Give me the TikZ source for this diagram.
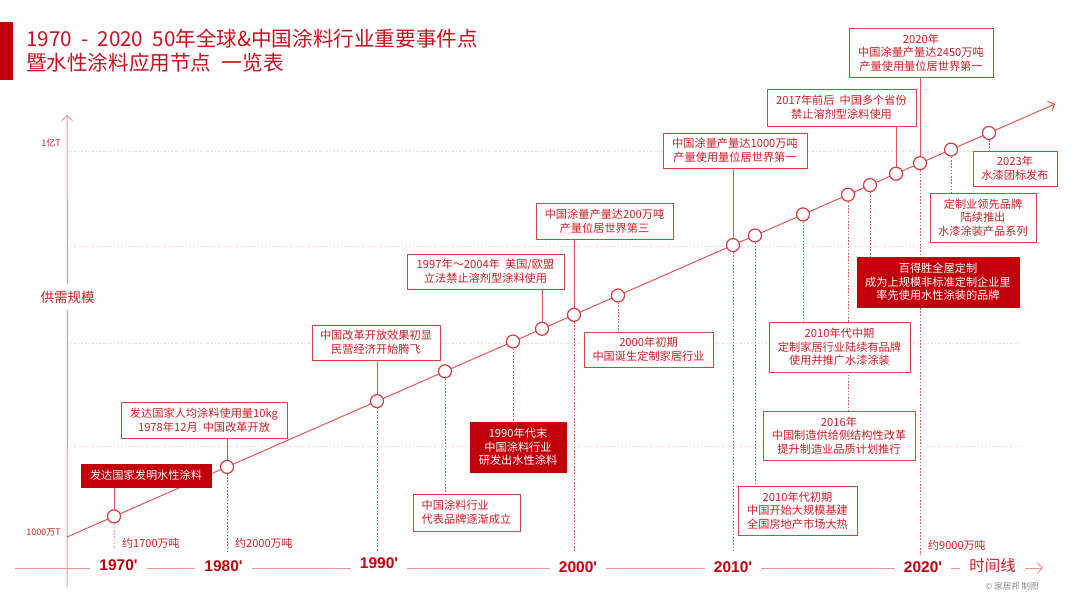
\documentclass[tikz,border=0pt]{standalone}
\usepackage{fontspec}
\setmainfont{Noto Sans CJK SC}
\newfontfamily\yrfont{Liberation Sans}
\usetikzlibrary{arrows.meta}
\pgfdeclarelayer{bg}
\pgfsetlayers{bg,main}
\definecolor{tred}{RGB}{200,16,30}
\definecolor{fred}{RGB}{194,0,12}
\definecolor{bred}{RGB}{216,66,68}
\definecolor{txtred}{RGB}{206,30,38}
\definecolor{lred}{RGB}{226,86,86}
\definecolor{gridc}{RGB}{247,212,212}
\definecolor{axisc}{RGB}{238,150,150}
\definecolor{cpgray}{RGB}{140,140,140}
\tikzset{
  evbox/.style={draw=bred, line width=1pt, fill=white, text=txtred, align=center,
    font=\fontsize{11.2}{13.6}\selectfont, inner sep=0pt},
  evfill/.style={draw=fred, line width=1pt, fill=fred, text=white, align=center,
    font=\fontsize{11.2}{13.6}\selectfont, inner sep=0pt},
  evdot/.style={circle, draw=lred!70!fred, line width=1.2pt, fill=white, minimum size=13pt, inner sep=0pt},
  solidlink/.style={draw=lred, line width=0.9pt},
  dotlink/.style={draw=lred, line width=0.8pt, dash pattern=on 1.6pt off 1.6pt},
  gridline/.style={draw=gridc, line width=0.8pt, dash pattern=on 1.6pt off 2pt},
  yearlab/.style={text=fred, font=\yrfont\bfseries\fontsize{15.5}{18}\selectfont, inner xsep=9pt, inner ysep=0pt, outer sep=0pt},
  amount/.style={text=txtred, font=\fontsize{11}{13}\selectfont, anchor=west, inner sep=0pt},
  axislab/.style={text=txtred, font=\fontsize{9}{11}\selectfont, inner sep=0pt},
  axisline/.style={draw=axisc, line width=1pt},
  barb/.style={-{Straight Barb[length=5pt,width=11pt]}},
  titletext/.style={anchor=west, text=tred, inner sep=0pt, font=\fontsize{20.6}{24}\selectfont}
}
\begin{document}
\begin{tikzpicture}[x=1pt,y=-1pt]
\useasboundingbox (0,0) rectangle (1080,608);
% title
\fill[fred] (0,22) rectangle (13,80);
\node[titletext] (t1) at (26,39) {1970\hspace{0.45em}-\hspace{0.45em}2020\hspace{0.45em}50年全球\&中国涂料行业重要事件点};
\node[titletext] (t2) at (26,63) {暨水性涂料应用节点\hspace{0.5em}一览表};
% axis labels
\node[axislab, anchor=east] (l1y) at (61,143) {1亿T};
\node[axislab, anchor=east] (l1k) at (61,532) {1000万T};
\node[text=txtred, font=\fontsize{13.5}{16}\selectfont, inner xsep=0pt, inner ysep=7pt] (ylab) at (67.5,297) {供需规模};
\coordinate (yb) at (67,587);
\coordinate (yt) at (67,115);
% time axis
\coordinate (ts) at (15,568);
\node[yearlab] (y1970) at (118.5,565) {1970'};
\node[yearlab] (y1980) at (223.5,566.5) {1980'};
\node[yearlab] (y1990) at (379,563.5) {1990'};
\node[yearlab] (y2000) at (578,567) {2000'};
\node[yearlab] (y2010) at (733,567) {2010'};
\node[yearlab] (y2020) at (923,567) {2020'};
\node[text=txtred, font=\fontsize{15.5}{18}\selectfont, inner xsep=9pt, inner ysep=0pt] (tl) at (992.5,566) {时间线};
\coordinate (te) at (1043,568);
\node[text=cpgray, font=\fontsize{8.5}{10}\selectfont, inner sep=0pt] (cp) at (1012,586) {© 家居邦 制图};
% amounts
\node[amount] (a1) at (122,543) {约1700万吨};
\node[amount] (a2) at (235,543) {约2000万吨};
\node[amount] (a3) at (928,545) {约9000万吨};
% main line
\coordinate (ls) at (67,537);
\coordinate (le) at (1055,104);
% circles
\node[evdot] (c1) at (114,516.4) {};
\node[evdot] (c2) at (227,466.9) {};
\node[evdot] (c3) at (377,401.1) {};
\node[evdot] (c4) at (445,371.3) {};
\node[evdot] (c5) at (513,341.5) {};
\node[evdot] (c6) at (542,328.8) {};
\node[evdot] (c7) at (574,314.8) {};
\node[evdot] (c8) at (618,295.5) {};
\node[evdot] (c9) at (733,245.1) {};
\node[evdot] (c10) at (755,235.5) {};
\node[evdot] (c11) at (803,214.4) {};
\node[evdot] (c12) at (848,194.7) {};
\node[evdot] (c13) at (870,185.1) {};
\node[evdot] (c14) at (896,173.7) {};
\node[evdot] (c15) at (920,163.2) {};
\node[evdot] (c16) at (951,149.6) {};
\node[evdot] (c17) at (989,132.9) {};
% boxes
\node[evfill, minimum width=130pt, minimum height=23pt] (b1) at (146,475.5) {发达国家发明水性涂料};
\node[evbox, minimum width=166pt, minimum height=36pt] (b2) at (204,420) {发达国家人均涂料使用量10kg\\1978年12月~ 中国改革开放};
\node[evbox, minimum width=128pt, minimum height=35pt] (b3) at (376,342.5) {中国改革开放效果初显\\民营经济开始腾飞};
\node[evbox, align=left, minimum width=107pt, minimum height=37pt] (b4) at (466.5,512.5) {中国涂料行业\\代表品牌逐渐成立};
\node[evfill, minimum width=96pt, minimum height=50pt] (b5) at (518,447) {1990年代末\\中国涂料行业\\研发出水性涂料};
\node[evbox, minimum width=157pt, minimum height=35pt] (b6) at (485.5,271.5) {1997年～2004年~ 美国/欧盟\\立法禁止溶剂型涂料使用};
\node[evbox, minimum width=137pt, minimum height=36pt] (b7) at (604.5,221) {中国涂量产量达200万吨\\产量位居世界第三};
\node[evbox, minimum width=129pt, minimum height=35pt] (b8) at (648.5,349.5) {2000年初期\\中国诞生定制家居行业};
\node[evbox, minimum width=144pt, minimum height=35pt] (b9) at (735,150.5) {中国涂量产量达1000万吨\\产量使用量位居世界第一};
\node[evbox, minimum width=119pt, minimum height=49pt] (b10) at (797.5,510.5) {2010年代初期\\中国开始大规模基建\\全国房地产市场大热};
\node[evbox, minimum width=141pt, minimum height=50pt] (b11) at (839.5,347) {2010年代中期\\定制家居行业陆续有品牌\\使用并推广水漆涂装};
\node[evbox, minimum width=152pt, minimum height=49pt] (b12) at (839,435.5) {2016年\\中国制造供给侧结构性改革\\提升制造业品质计划推行};
\node[evfill, minimum width=162pt, minimum height=50pt] (b13) at (938,282) {百得胜全屋定制\\成为上规模非标准定制企业里\\率先使用水性涂装的品牌};
\node[evbox, minimum width=149pt, minimum height=37pt] (b14) at (841.5,107.5) {2017年前后~ 中国多个省份\\禁止溶剂型涂料使用};
\node[evbox, minimum width=144pt, minimum height=49pt] (b15) at (921,52.5) {2020年\\中国涂量产量达2450万吨\\产量使用量位居世界第一};
\node[evbox, minimum width=106pt, minimum height=49pt] (b16) at (983,217.5) {定制业领先品牌\\陆续推出\\水漆涂装产品系列};
\node[evbox, minimum width=84pt, minimum height=35pt] (b17) at (1015,168.5) {2023年\\水漆团标发布};
% free ends of dotted drop lines
\coordinate (d1) at (114,548);
\coordinate (d2) at (227,552);
\coordinate (d3) at (377,552);
\coordinate (d7) at (574,552);
\coordinate (d9) at (733,552);
\coordinate (d15) at (920,555);
\begin{pgfonlayer}{bg}
  \foreach \gy in {151,246,343,446} \draw[gridline] (67,\gy) -- (1020,\gy);
  % y axis
  \draw[axisline] (yb) -- (ylab.south);
  \draw[axisline, barb] (ylab.north) -- (yt);
  % time axis
  \draw[axisline] (ts) -- (ts -| y1970.west);
  \draw[axisline] (ts -| y1970.east) -- (ts -| y1980.west);
  \draw[axisline] (ts -| y1980.east) -- (ts -| y1990.west);
  \draw[axisline] (ts -| y1990.east) -- (ts -| y2000.west);
  \draw[axisline] (ts -| y2000.east) -- (ts -| y2010.west);
  \draw[axisline] (ts -| y2010.east) -- (ts -| y2020.west);
  \draw[axisline] (ts -| y2020.east) -- (ts -| tl.west);
  \draw[axisline, barb] (ts -| tl.east) -- (te);
  % main diagonal
  \draw[lred, line width=1pt, barb] (ls) -- (le);
  % solid links up
  \draw[solidlink] (c1) -- (c1 |- b1.south);
  \draw[solidlink] (c2) -- (c2 |- b2.south);
  \draw[solidlink] (c3) -- (c3 |- b3.south);
  \draw[solidlink] (c6) -- (c6 |- b6.south);
  \draw[solidlink] (c7) -- (c7 |- b7.south);
  \draw[solidlink] (c9) -- (c9 |- b9.south);
  \draw[solidlink] (c14) -- (c14 |- b14.south);
  \draw[solidlink] (c15) -- (c15 |- b15.south);
  % dotted links down
  \draw[dotlink, draw=lred!60] (c1) -- (d1);
  \draw[dotlink] (c2) -- (d2);
  \draw[dotlink] (c3) -- (d3);
  \draw[dotlink] (c4) -- (c4 |- b4.north);
  \draw[dotlink] (c5) -- (c5 |- b5.north);
  \draw[dotlink] (c7) -- (d7);
  \draw[dotlink] (c8) -- (c8 |- b8.north);
  \draw[dotlink] (c9) -- (d9);
  \draw[dotlink] (c10) -- (c10 |- b10.north);
  \draw[dotlink] (c11) -- (c11 |- b11.north);
  \draw[dotlink] (c12) -- (c12 |- b12.north);
  \draw[dotlink] (c13) -- (c13 |- b13.north);
  \draw[dotlink] (c15) -- (d15);
  \draw[dotlink] (c16) -- (c16 |- b16.north);
  \draw[dotlink] (c17) -- (c17 |- b17.north);
\end{pgfonlayer}
\end{tikzpicture}
\end{document}
